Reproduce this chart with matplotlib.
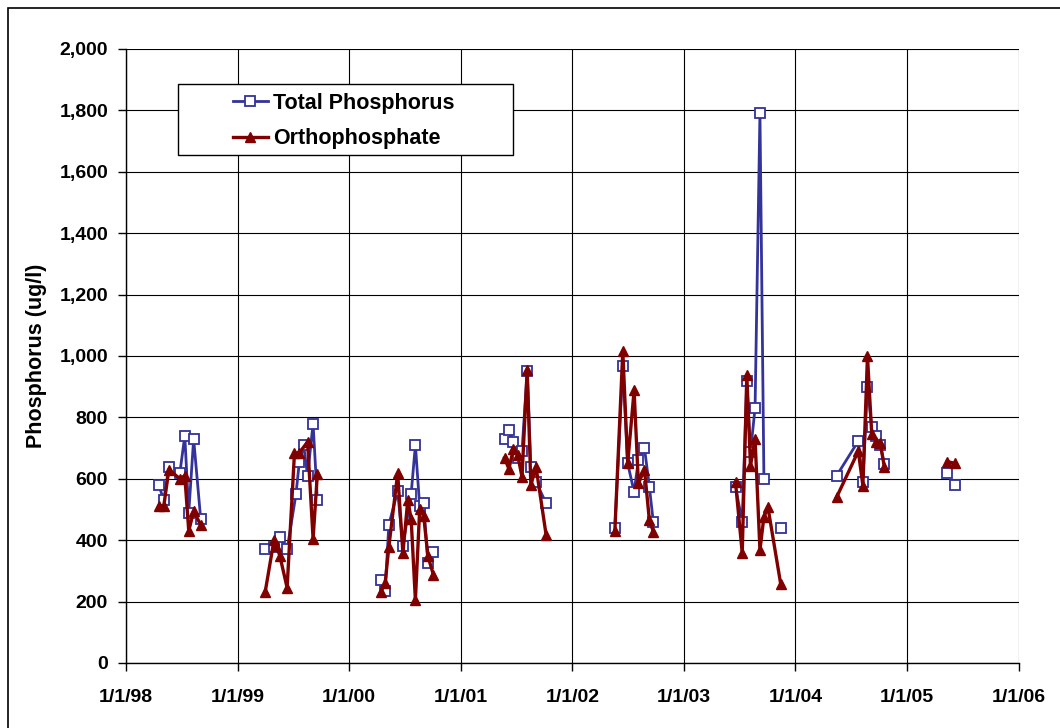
import matplotlib
matplotlib.use("Agg")
import matplotlib.pyplot as plt
import matplotlib.dates as mdates
from matplotlib.ticker import FuncFormatter, MultipleLocator
from matplotlib.patches import Rectangle
import numpy as np
import pandas as pd

plt.rcParams['font.family'] = ['Liberation Sans', 'DejaVu Sans']
plt.rcParams['font.weight'] = 'bold'

# Total Phosphorus (ug/l)
tp_dates = ['1998-04-18', '1998-05-04', '1998-05-21', '1998-06-26', '1998-07-12', '1998-07-25', '1998-08-10', '1998-09-02',
            '1999-04-01', '1999-04-30', '1999-05-19', '1999-06-12', '1999-07-11', '1999-07-22', '1999-08-05', '1999-08-18', '1999-09-05', '1999-09-19',
            '2000-04-13', '2000-04-28', '2000-05-10', '2000-06-08', '2000-06-25', '2000-07-22', '2000-08-05', '2000-08-19', '2000-09-01', '2000-09-15', '2000-10-03',
            '2001-05-24', '2001-06-07', '2001-06-22', '2001-07-06', '2001-07-20', '2001-08-06', '2001-08-18', '2001-09-04', '2001-10-07',
            '2002-05-20', '2002-06-15', '2002-07-01', '2002-07-22', '2002-08-05', '2002-08-25', '2002-09-10', '2002-09-23',
            '2003-06-19', '2003-07-11', '2003-07-26', '2003-08-07', '2003-08-22', '2003-09-07', '2003-09-20', '2003-10-03', '2003-11-14',
            '2004-05-15', '2004-07-25', '2004-08-09', '2004-08-24', '2004-09-07', '2004-09-22', '2004-10-05', '2004-10-18',
            '2005-05-12', '2005-05-25', '2005-06-08']
tp_values = [580, 530, 640, 620, 740, 490, 730, 470,
             370, 378, 410, 370, 550, 655, 710, 610, 780, 530,
             270, 235, 450, 560, 380, 550, 710, 510, 520, 325, 360,
             730, 760, 720, 667, 690, 950, 640, 590, 520,
             440, 968, 650, 557, 660, 700, 574, 458,
             573, 460, 918, 687, 830, 1792, 600, np.nan, 440,
             610, 723, 590, 900, 768, 740, 710, 648,
             618, np.nan, 580]

# Orthophosphate (ug/l)
op_dates = ['1998-04-18', '1998-05-04', '1998-05-21', '1998-06-26', '1998-07-12', '1998-07-25', '1998-08-10', '1998-09-02',
            '1999-04-01', '1999-04-30', '1999-05-08', '1999-05-19', '1999-06-12', '1999-07-06', '1999-07-22', '1999-08-18', '1999-09-05', '1999-09-19',
            '2000-04-13', '2000-04-28', '2000-05-10', '2000-06-08', '2000-06-25', '2000-07-11', '2000-07-22', '2000-08-05', '2000-08-19', '2000-09-01', '2000-09-15', '2000-10-03',
            '2001-05-24', '2001-06-07', '2001-06-22', '2001-07-06', '2001-07-20', '2001-08-06', '2001-08-18', '2001-09-04', '2001-10-07',
            '2002-05-20', '2002-06-15', '2002-07-01', '2002-07-22', '2002-08-05', '2002-08-25', '2002-09-10', '2002-09-23',
            '2003-06-19', '2003-07-11', '2003-07-26', '2003-08-07', '2003-08-22', '2003-09-07', '2003-09-20', '2003-10-03', '2003-11-14',
            '2004-05-15', '2004-07-25', '2004-08-09', '2004-08-24', '2004-09-07', '2004-09-22', '2004-10-05', '2004-10-18',
            '2005-05-12', '2005-06-08']
op_values = [510, 510, 630, 600, 610, 430, 495, 450,
             230, 400, 380, 350, 245, 683, 685, 720, 405, 615,
             230, 260, 378, 618, 358, 530, 470, 205, 500, 480, 348, 287,
             668, 632, 697, 677, 606, 955, 580, 638, 417,
             430, 1015, 650, 888, 585, 630, 465, 428,
             589, 358, 938, 642, 730, 368, 476, 508, 257,
             540, 690, 578, 1000, 745, 720, 716, 640,
             656, 650]

tp = pd.DataFrame({'date': pd.to_datetime(tp_dates), 'value': tp_values})
op = pd.DataFrame({'date': pd.to_datetime(op_dates), 'value': op_values})

fig = plt.figure(figsize=(10.6, 7.28), dpi=100)
ax = fig.add_axes([0.119, 0.0893, 0.842, 0.8434])

tp_style = dict(color='#333399', lw=2, marker='s', ms=7, mfc='white', mec='#333399', mew=1.3)
op_style = dict(color='#800000', lw=2.4, marker='^', ms=7.5, mfc='#800000', mec='#800000')

# one line per sampling season, so years are not joined
for i, (yr, g) in enumerate(tp.groupby(tp['date'].dt.year)):
    ax.plot(g['date'], g['value'], label='Total Phosphorus' if i == 0 else None, zorder=3, **tp_style)
for i, (yr, g) in enumerate(op.groupby(op['date'].dt.year)):
    ax.plot(g['date'], g['value'], label='Orthophosphate' if i == 0 else None, zorder=4, **op_style)

ax.set_xlim(pd.Timestamp('1998-01-01'), pd.Timestamp('2006-01-01'))
ax.set_ylim(0, 2000)
ax.xaxis.set_major_locator(mdates.YearLocator())
ax.xaxis.set_major_formatter(FuncFormatter(
    lambda v, p: (lambda d: f"{d.month}/{d.day}/{d.year % 100:02d}")(mdates.num2date(v))))
ax.yaxis.set_major_locator(MultipleLocator(200))
ax.yaxis.set_major_formatter(FuncFormatter(lambda v, p: f"{v:,.0f}"))

ax.grid(True, color='black', lw=0.8)
ax.set_axisbelow(True)
for s in ['top', 'right']:
    ax.spines[s].set_visible(False)
ax.spines['left'].set_linewidth(1)
ax.spines['bottom'].set_linewidth(1)
ax.tick_params(axis='both', direction='out', length=6, width=1, labelsize=14)
ax.tick_params(axis='y', pad=7)
ax.tick_params(axis='x', pad=13)
for lab in ax.get_xticklabels() + ax.get_yticklabels():
    lab.set_fontweight('bold')

ax.set_ylabel('Phosphorus (ug/l)', fontsize=15.5, fontweight='bold', labelpad=9)

leg = ax.legend(loc='center left', bbox_to_anchor=(0.1198, 0.8827), fontsize=15.5,
                frameon=False, borderpad=0, handlelength=1.6, handletextpad=0.25,
                labelspacing=0.68, borderaxespad=0)
for t in leg.get_texts():
    t.set_fontweight('bold')
ax.add_patch(Rectangle((0.0582, 0.8274), 0.3751, 0.1156, transform=ax.transAxes,
                       facecolor='white', edgecolor='black', lw=1, zorder=5))
leg.set_zorder(6)

# outer chart border
fig.patches.append(Rectangle((8 / 1060, -0.05), 1.2, 1.05 - 8 / 728, transform=fig.transFigure,
                             fill=False, edgecolor='black', lw=1.2))

fig.savefig('out.png', dpi=100)
